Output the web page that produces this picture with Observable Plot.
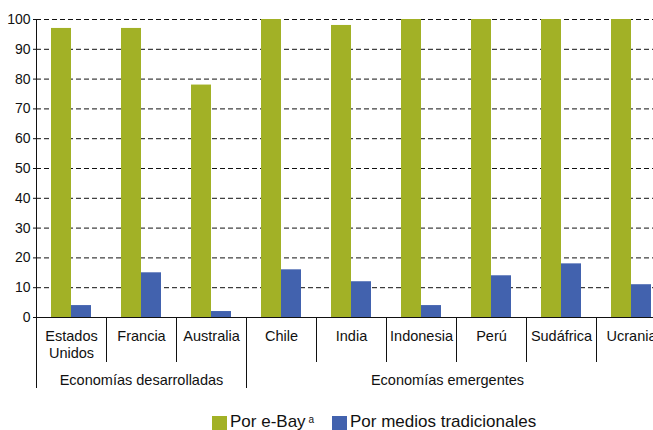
<!DOCTYPE html>
<html>
<head>
<meta charset="utf-8">
<script src="https://cdn.jsdelivr.net/npm/d3@7"></script>
<script src="https://cdn.jsdelivr.net/npm/@observablehq/plot@0.6"></script>
<style>
  html, body { margin: 0; padding: 0; background: #fff; overflow: hidden; }
  body { width: 653px; height: 430px; font-family: "Liberation Sans", Arial, sans-serif; }
  #chart svg { display: block; }
  #legend { position: relative; height: 20px; font-size: 17px; color: #111; white-space: nowrap; }
  #legend .sw { position: absolute; top: 6px; width: 15px; height: 15px; }
  #legend .lb { position: absolute; top: 2px; line-height: 19.5px; }
  #legend sup { font-size: 10px; position: relative; top: -2px; vertical-align: top; margin-left: 3px; }
</style>
</head>
<body>
<div id="chart"></div>
<div id="legend"></div>
<script>
const countries = ["Estados Unidos", "Francia", "Australia", "Chile", "India", "Indonesia", "Perú", "Sudáfrica", "Ucrania"];
const countryLabels = ["Estados\nUnidos", "Francia", "Australia", "Chile", "India", "Indonesia", "Perú", "Sudáfrica", "Ucrania"];
const ebay = [97, 97, 78, 100, 98, 100, 100, 100, 100];
const traditional = [4, 15, 2, 16, 12, 4, 14, 18, 11];
const groups = ["Economías desarrolladas", "Economías emergentes"];
const groupAnchors = ["Francia", "Indonesia"];
const seriesNames = ["Por e-Bay", "Por medios tradicionales"];
const seriesNote = "a";
const yTicks = [0, 10, 20, 30, 40, 50, 60, 70, 80, 90, 100];

const colors = ["#a2b126", "#4262ae"];
const rows = countries.map((c, i) => ({country: c, label: countryLabels[i], ebay: ebay[i], trad: traditional[i]}));
const longTicks = ["Estados Unidos", "Chile"];

const groupText = (i, dx) => Plot.text([groups[i]], {
  x: () => groupAnchors[i], text: d => d, frameAnchor: "bottom", lineAnchor: "top",
  dy: 57, dx, fontSize: 14.5, fill: "#111"
});

const plot = Plot.plot({
  width: 653,
  height: 410,
  marginLeft: 36,
  marginRight: 0,
  marginTop: 19,
  marginBottom: 93,
  style: {fontFamily: "Liberation Sans, Arial, sans-serif", color: "#111", background: "#fff"},
  x: {domain: countries, range: [36, 666], padding: 0, axis: null},
  y: {domain: [0, 100], axis: null},
  marks: [
    Plot.ruleY(yTicks.slice(1), {stroke: "#111", strokeDasharray: "5,3", strokeWidth: 1}),
    Plot.barY(rows, {x: "country", y: "ebay", fill: colors[0], insetLeft: 15, insetRight: 35}),
    Plot.barY(rows, {x: "country", y: "trad", fill: colors[1], insetLeft: 35, insetRight: 15}),
    Plot.ruleY([0], {stroke: "#111", strokeWidth: 1}),
    Plot.ruleX(["Estados Unidos"], {x: d => d, dx: -35, stroke: "#111"}),
    Plot.axisY({ticks: yTicks, tickSize: 3, tickPadding: 3, fontSize: 14, label: null, stroke: "#111"}),
    Plot.axisX({ticks: countries.filter(c => !longTicks.includes(c)), tickSize: 45, dx: -35, tickFormat: () => "", label: null, stroke: "#111"}),
    Plot.axisX({ticks: longTicks, tickSize: 71, dx: -35, tickFormat: () => "", label: null, stroke: "#111"}),
    Plot.text(rows, {x: "country", text: "label", frameAnchor: "bottom", lineAnchor: "top", dy: 11, fontSize: 14.5, lineHeight: 1.17, fill: "#111"}),
    groupText(0, 0),
    groupText(1, 26)
  ]
});
document.getElementById("chart").appendChild(plot);

const legend = document.getElementById("legend");
const items = [
  {left: 212, color: colors[0], text: seriesNames[0], note: seriesNote},
  {left: 332, color: colors[1], text: seriesNames[1], note: null}
];
for (const it of items) {
  const sw = document.createElement("span");
  sw.className = "sw"; sw.style.left = it.left + "px"; sw.style.background = it.color;
  legend.appendChild(sw);
  const lb = document.createElement("span");
  lb.className = "lb"; lb.style.left = (it.left + 18) + "px";
  lb.textContent = it.text;
  if (it.note) { const s = document.createElement("sup"); s.textContent = it.note; lb.appendChild(s); }
  legend.appendChild(lb);
}
</script>
</body>
</html>
